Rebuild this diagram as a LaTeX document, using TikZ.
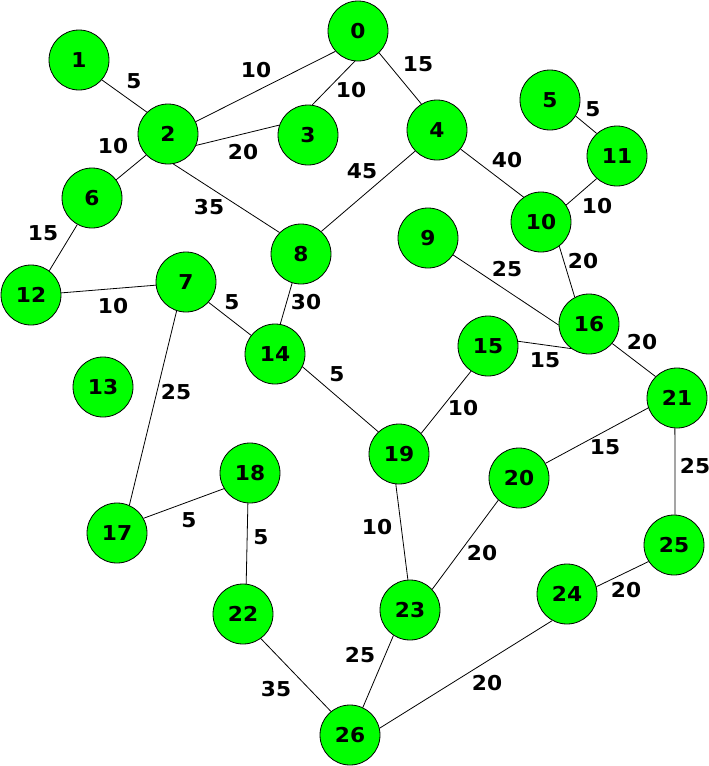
\documentclass[tikz,border=0pt]{standalone}
\usepackage{fontspec}
\setmainfont{DejaVu Sans}
\newfontfamily\labfont{DejaVu Sans Bold}[FakeStretch=1.06]
\definecolor{nodegreen}{RGB}{0,255,0}
\begin{document}
\begin{tikzpicture}[x=1pt,y=-1pt,
  vert/.style={circle,draw=black,line width=0.8pt,fill=nodegreen,minimum size=60pt,inner sep=0pt,font=\labfont\fontsize{20.5}{21}\selectfont},
  wlab/.style={inner sep=0pt,font=\labfont\fontsize{20.5}{21}\selectfont},
  edge/.style={draw=black,line width=0.8pt}]
\useasboundingbox (0,0) rectangle (709,766);
\fill[white] (0,0) rectangle (709,766);
% vertices
\foreach \i/\x/\y in {0/358/31,1/79/60,2/168/134,3/308/135,4/437/130,5/550/100,6/92/198,7/186/282,8/301/254,9/428/238,10/541/222,11/617/156,12/31/295,13/103/387,14/275/354,15/488/346,16/589/324,17/117/533,18/250/473,19/399/454,20/519/478,21/677/398,22/243/614,23/410/610,24/567/594,25/674/545,26/350/735}
  \node[vert] (n\i) at (\x,\y) {\i};
% edges: node/angle -- node/angle
\foreach \a/\aa/\b/\bb in {1/-41/2/134, 2/24/0/222, 0/264.5/3/82, 0/-46/4/121.6, 2/-22.5/3/161,
  2/-136/6/37, 2/-80.5/8/135, 4/-136/8/48.8, 4/-39.8/10/125.8, 5/-32/11/132,
  11/-132/10/34.7, 10/-53/16/118, 9/-34.7/16/182, 15/9.5/16/234.7, 6/241/12/53,
  12/4/7/186, 7/-42.4/14/142.8, 8/-107/14/80.5, 7/252/17/66, 16/-40.6/21/135,
  14/-25/19/133.7, 15/236.8/19/43.7, 21/199/20/29.7, 21/266.2/25/88, 18/211.6/17/29,
  18/266/22/84, 19/264/23/94, 20/227.5/23/43.7, 25/213/24/14.5, 22/-54/26/129.6,
  23/237.8/26/65, 24/241.8/26/13}
  \draw[edge] (n\a.\aa) -- (n\b.\bb);
% weights
\node[wlab] (w1-2) at (134,81) {5};
\node[wlab] (w0-2) at (256,70) {10};
\node[wlab] (w0-3) at (351,90) {10};
\node[wlab] (w0-4) at (418,64) {15};
\node[wlab] (w2-3) at (243,152) {20};
\node[wlab] (w2-6) at (113,146) {10};
\node[wlab] (w2-8) at (209,207) {35};
\node[wlab] (w4-8) at (362,171) {45};
\node[wlab] (w4-10) at (507,160) {40};
\node[wlab] (w5-11) at (593,109) {5};
\node[wlab] (w11-10) at (597,206) {10};
\node[wlab] (w6-12) at (43,233) {15};
\node[wlab] (w12-7) at (113,306) {10};
\node[wlab] (w7-14) at (232,302) {5};
\node[wlab] (w8-14) at (306,302) {30};
\node[wlab] (w7-17) at (176,392) {25};
\node[wlab] (w9-16) at (507,269) {25};
\node[wlab] (w10-16) at (583,261) {20};
\node[wlab] (w15-16) at (545,360) {15};
\node[wlab] (w16-21) at (642,342) {20};
\node[wlab] (w14-19) at (337,374) {5};
\node[wlab] (w15-19) at (463,408) {10};
\node[wlab] (w21-20) at (605,447) {15};
\node[wlab] (w21-25) at (695,466) {25};
\node[wlab] (w18-17) at (189,520) {5};
\node[wlab] (w18-22) at (261,537) {5};
\node[wlab] (w19-23) at (377,527) {10};
\node[wlab] (w20-23) at (482,553) {20};
\node[wlab] (w25-24) at (626,590) {20};
\node[wlab] (w22-26) at (276,689) {35};
\node[wlab] (w23-26) at (360,655) {25};
\node[wlab] (w24-26) at (487,683) {20};
\end{tikzpicture}
\end{document}
